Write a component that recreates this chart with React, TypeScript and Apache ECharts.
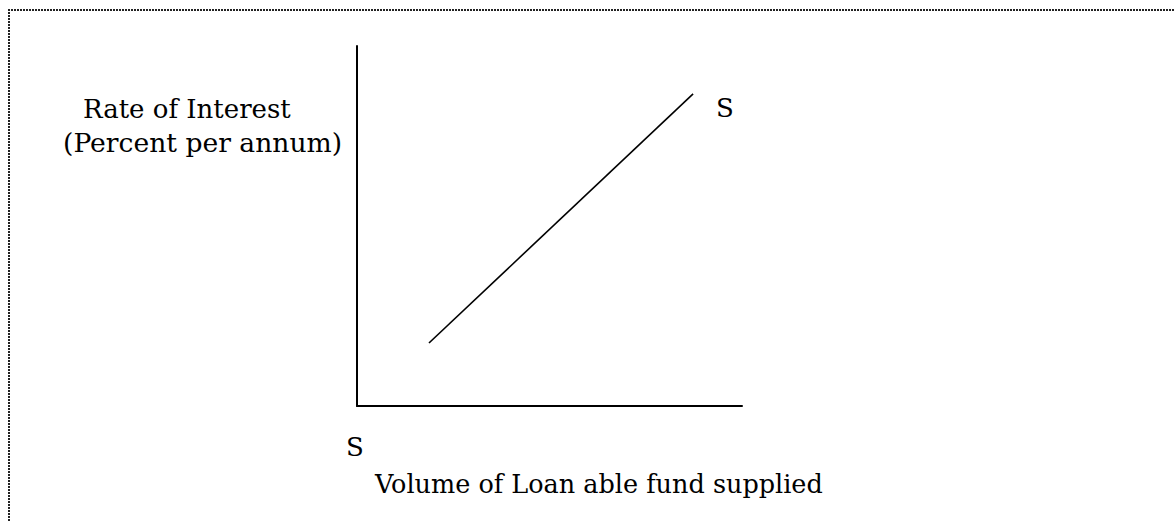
import React, { useEffect, useRef } from "react";
import * as echarts from "echarts";

// Supply curve S-S: volume of loanable funds (x) vs rate of interest (y), arbitrary units 0–100
const supplyVolume = [18.7, 87.3];
const supplyRate = [17.5, 86.7];

const yAxisTitle = ["Rate of Interest", "(Percent per annum)"];
const xAxisTitle = "Volume of Loan able fund supplied";
const curveLabel = "S";

const FONT = "'DejaVu Serif', 'Liberation Serif', serif";

export default function App() {
  const ref = useRef<HTMLDivElement>(null);

  useEffect(() => {
    document.body.style.margin = "0";
    if (!ref.current) return;
    const chart = echarts.init(ref.current, null, { renderer: "svg" });
    const textStyle = (text: string, x: number, y: number, size = 26) => ({
      type: "text",
      x,
      y,
      silent: true,
      style: {
        text,
        fill: "#000",
        font: `${size}px ${FONT}`,
        align: "left",
        verticalAlign: "middle",
      },
    });
    chart.setOption({
      animation: false,
      backgroundColor: "#fff",
      grid: { left: 357, top: 46, width: 385, height: 360 },
      xAxis: {
        type: "value",
        min: 0,
        max: 100,
        axisLine: { show: true, lineStyle: { color: "#000", width: 2 } },
        axisTick: { show: false },
        axisLabel: { show: false },
        splitLine: { show: false },
      },
      yAxis: {
        type: "value",
        min: 0,
        max: 100,
        axisLine: { show: true, lineStyle: { color: "#000", width: 2 } },
        axisTick: { show: false },
        axisLabel: { show: false },
        splitLine: { show: false },
      },
      series: [
        {
          type: "line",
          name: "S",
          data: supplyVolume.map((v, i) => [v, supplyRate[i]]),
          symbol: "none",
          lineStyle: { color: "#000", width: 1.6 },
          silent: true,
        },
      ],
      graphic: [
        {
          type: "polyline",
          silent: true,
          shape: { points: [[9, 521], [9, 10], [1175, 10]] },
          style: { stroke: "#222", lineWidth: 2, lineDash: [2, 1], fill: null },
        },
        textStyle(yAxisTitle[0], 83, 109),
        textStyle(yAxisTitle[1], 63, 142, 26.6),
        textStyle(curveLabel, 716, 108),
        textStyle(curveLabel, 346, 447),
        textStyle(xAxisTitle, 375, 484, 25.5),
      ],
    });
    return () => chart.dispose();
  }, []);

  return <div ref={ref} style={{ width: 1175, height: 521 }} />;
}
